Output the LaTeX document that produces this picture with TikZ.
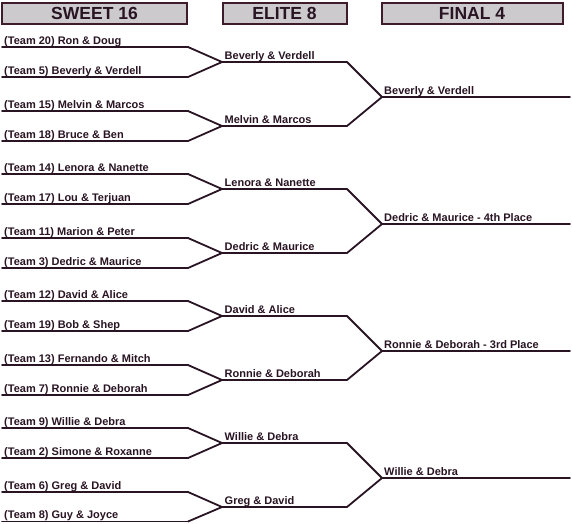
\documentclass[tikz,border=0pt]{standalone}
\usepackage{fontspec}
\setmainfont{Liberation Sans}
\definecolor{ink}{RGB}{40,20,34}
\definecolor{hdrfill}{RGB}{204,202,204}
\definecolor{hdrborder}{RGB}{62,28,44}
\begin{document}
\begin{tikzpicture}[x=1pt,y=-1pt,
  bline/.style={draw=ink, line width=1.8pt, line join=round, line cap=round},
  lbl/.style={anchor=base west, inner sep=0pt, text=ink,
    font=\fontsize{11}{12}\selectfont\bfseries},
  hdr/.style={draw=hdrborder, line width=2pt, fill=hdrfill, text=ink,
    minimum height=21pt, inner sep=0pt,
    font=\fontsize{17.5}{19}\selectfont\bfseries}]
\useasboundingbox (0,0) rectangle (572,523);
% headers
\node[hdr, minimum width=185pt] (h1) at (94.5,13) {SWEET 16};
\node[hdr, minimum width=124pt] (h2) at (284.5,13) {ELITE 8};
\node[hdr, minimum width=181pt] (h3) at (472,13) {FINAL 4};
% team lines
\foreach \i/\y/\txt in {
  1/47/{(Team 20) Ron \& Doug},
  2/77/{(Team 5) Beverly \& Verdell},
  3/111/{(Team 15) Melvin \& Marcos},
  4/141/{(Team 18) Bruce \& Ben},
  5/174/{(Team 14) Lenora \& Nanette},
  6/204/{(Team 17) Lou \& Terjuan},
  7/238/{(Team 11) Marion \& Peter},
  8/268/{(Team 3) Dedric \& Maurice},
  9/301/{(Team 12) David \& Alice},
  10/331/{(Team 19) Bob \& Shep},
  11/365/{(Team 13) Fernando \& Mitch},
  12/395/{(Team 7) Ronnie \& Deborah},
  13/428/{(Team 9) Willie \& Debra},
  14/458/{(Team 2) Simone \& Roxanne},
  15/492/{(Team 6) Greg \& David},
  16/521.5/{(Team 8) Guy \& Joyce}} {
  \coordinate (ts\i) at (2,\y);
  \coordinate (te\i) at (188,\y);
  \node[lbl] (tl\i) at ([xshift=2pt,yshift=3pt]ts\i) {\txt};
  \draw[bline] (ts\i) -- (te\i);
}
% elite 8
\foreach \j/\a/\b/\y/\txt in {
  1/1/2/62/{Beverly \& Verdell},
  2/3/4/126/{Melvin \& Marcos},
  3/5/6/189/{Lenora \& Nanette},
  4/7/8/253/{Dedric \& Maurice},
  5/9/10/316/{David \& Alice},
  6/11/12/380/{Ronnie \& Deborah},
  7/13/14/443/{Willie \& Debra},
  8/15/16/507/{Greg \& David}} {
  \coordinate (es\j) at (222,\y);
  \coordinate (ee\j) at (347,\y);
  \node[lbl] (el\j) at ([xshift=2.5pt,yshift=3pt]es\j) {\txt};
  \draw[bline] (te\a) -- (es\j) -- (te\b);
  \draw[bline] (es\j) -- (ee\j);
}
% final 4
\foreach \k/\a/\b/\y/\txt in {
  1/1/2/97/{Beverly \& Verdell},
  2/3/4/224/{Dedric \& Maurice - 4th Place},
  3/5/6/351/{Ronnie \& Deborah - 3rd Place},
  4/7/8/478/{Willie \& Debra}} {
  \coordinate (fs\k) at (382,\y);
  \coordinate (fe\k) at (570,\y);
  \node[lbl] (fl\k) at ([xshift=2pt,yshift=3pt]fs\k) {\txt};
  \draw[bline] (ee\a) -- (fs\k) -- (ee\b);
  \draw[bline] (fs\k) -- (fe\k);
}
\end{tikzpicture}
\end{document}
